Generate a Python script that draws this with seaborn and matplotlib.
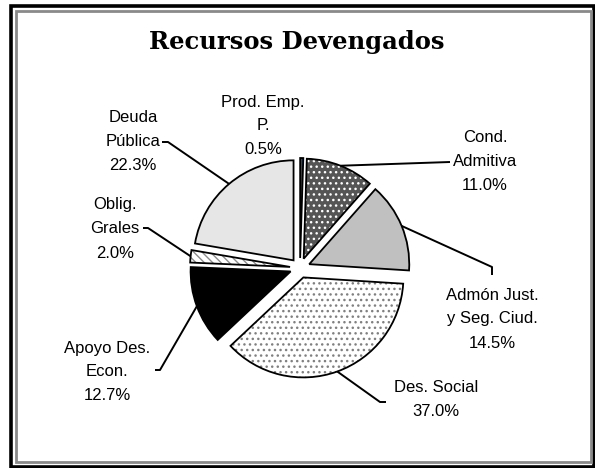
import matplotlib
matplotlib.use("Agg")
import matplotlib.pyplot as plt
from matplotlib.patches import Rectangle, Wedge
import numpy as np
import seaborn as sns

# data (clockwise from 12 o'clock)
categories = ['Prod. Emp.\nP.', 'Cond.\nAdmitiva', 'Admón Just.\ny Seg. Ciud.',
              'Des. Social', 'Apoyo Des.\nEcon.', 'Oblig.\nGrales', 'Deuda\nPública']
shares = [0.5, 11.0, 14.5, 37.0, 12.7, 2.0, 22.3]

# slice styles
face_colors = ['#1c4f8a', '#555555', '#c0c0c0', '#ffffff', '#000000', '#ffffff', '#e6e6e6']
hatches = [None, '...', None, '...', None, '\\\\\\\\', None]
hatch_colors = [None, '#ffffff', None, '#808080', None, '#8c8c8c', None]

# label block centres and leader elbows (data units, radius = 1)
label_pos = [(-0.37, 1.42), (1.85, 1.06), (1.92, -0.51), (1.36, -1.32),
             (-1.93, -1.04), (-1.85, 0.39), (-1.67, 1.26)]
leader_pts = [None,
              [(1.50, 1.06)],
              [(1.92, 0.01), (1.92, -0.07)],
              [(0.80, -1.34), (0.86, -1.34)],
              [(-1.40, -1.02), (-1.45, -1.02)],
              [(-1.52, 0.40), (-1.57, 0.40)],
              [(-1.32, 1.26), (-1.38, 1.26)]]

sns.set_theme(style='white')
plt.rcParams['font.family'] = ['Liberation Sans', 'DejaVu Sans']
plt.rcParams['hatch.linewidth'] = 1.0

fig = plt.figure(figsize=(5.95, 4.68), dpi=100)
fig.patch.set_facecolor('white')
ax = fig.add_axes([0, 0, 1, 1])
ax.axis('off')

wedges, _ = ax.pie(shares, explode=[0.1] * len(shares), startangle=90,
                   counterclock=False, radius=1.0, center=(0, 0),
                   wedgeprops=dict(linewidth=0))
ax.set_xlim(-3.0, 2.95)
ax.set_ylim(-2.0, 2.68)

for i, w in enumerate(wedges):
    w.set_facecolor(face_colors[i])
    if hatches[i]:
        w.set_hatch(hatches[i])
        w.set_edgecolor(hatch_colors[i])
    else:
        w.set_edgecolor(face_colors[i])
    w.set_linewidth(0)
    # black outline on top
    outline = Wedge(w.center, w.r, w.theta1, w.theta2, facecolor='none',
                    edgecolor='black', linewidth=1.3, zorder=w.get_zorder() + 0.1)
    ax.add_patch(outline)

    mid = np.deg2rad((w.theta1 + w.theta2) / 2)
    start = (w.center[0] + w.r * np.cos(mid), w.center[1] + w.r * np.sin(mid))
    if leader_pts[i]:
        pts = [start] + leader_pts[i]
        ax.plot([p[0] for p in pts], [p[1] for p in pts], color='black',
                lw=1.4, solid_capstyle='butt', zorder=5)

    ax.text(label_pos[i][0], label_pos[i][1], f"{categories[i]}\n{shares[i]:.1f}%",
            ha='center', va='center', multialignment='center', fontsize=12,
            linespacing=1.75, color='black')

fig.text(297 / 595, 1 - 42 / 468, 'Recursos Devengados', ha='center', va='center',
         fontsize=17.5, fontweight='bold', family='DejaVu Serif', color='black')

# chart frame
fig.add_artist(Rectangle((10.5 / 595, 1.5 / 468), 583 / 595, 460.5 / 468,
                         transform=fig.transFigure, fill=False,
                         edgecolor='black', linewidth=2.6))
fig.add_artist(Rectangle((15.5 / 595, 6 / 468), 575 / 595, 451.5 / 468,
                         transform=fig.transFigure, fill=False,
                         edgecolor='#8a8a8a', linewidth=2.0))

plt.savefig('out.png', dpi=100)
plt.close()
